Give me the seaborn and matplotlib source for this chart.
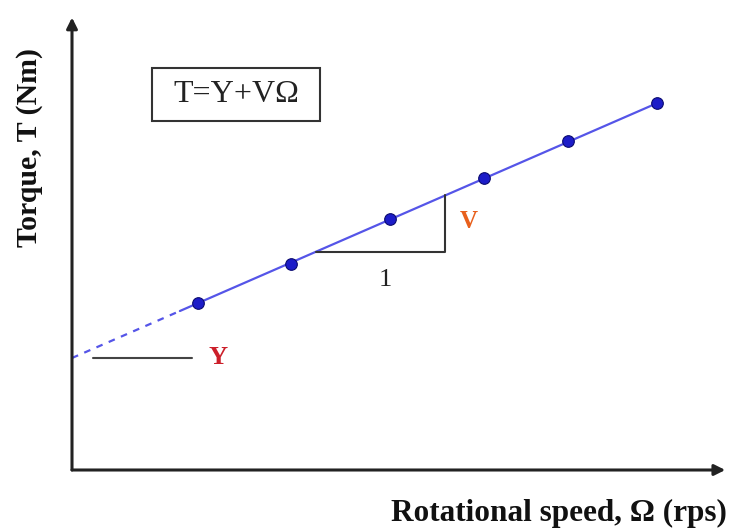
import numpy as np
import pandas as pd
import seaborn as sns
import matplotlib.pyplot as plt
import matplotlib.patches as mpatches

# measured points (rotational speed, torque) in arbitrary units
speed = [1.94, 3.37, 4.89, 6.34, 7.63, 9.0]
torque = [3.73, 4.60, 5.60, 6.52, 7.34, 8.19]

# fitted line T = Y + V*Omega
Y = 2.5
V = 0.632
fit_start = 1.66
fit_end = 9.0

sns.set_theme(style="white")
plt.rcParams['font.family'] = ['Liberation Serif', 'DejaVu Serif']

fig = plt.figure(figsize=(7.33, 5.30), dpi=100)
ax = fig.add_axes([0, 0, 1, 1])
ax.set_xlim(-72 / 65, (733 - 72) / 65)
ax.set_ylim(-(530 - 470) / 44.8, 470 / 44.8)
ax.axis('off')


def px(x):
    return (x - 72) / 65


def py(y):
    return (470 - y) / 44.8


# axes with arrows
ax.annotate('', xy=(10.05, 0), xytext=(0, 0),
            arrowprops=dict(arrowstyle='-|>', color='#222', lw=2.2,
                            mutation_scale=16, shrinkA=0, shrinkB=0))
ax.annotate('', xy=(0, 10.1), xytext=(0, 0),
            arrowprops=dict(arrowstyle='-|>', color='#222', lw=2.2,
                            mutation_scale=16, shrinkA=0, shrinkB=0))

# fitted line: solid over the data, dashed extrapolation to the intercept
solid = pd.DataFrame({'x': [fit_start, fit_end]})
solid['y'] = Y + V * solid['x']
dashed = pd.DataFrame({'x': [0, fit_start]})
dashed['y'] = Y + V * dashed['x']
sns.lineplot(data=solid, x='x', y='y', ax=ax, color='#5555e8', lw=1.6)
sns.lineplot(data=dashed, x='x', y='y', ax=ax, color='#5555e8', lw=1.6,
             linestyle=(0, (3, 3)))

pts = pd.DataFrame({'speed': speed, 'torque': torque})
sns.scatterplot(data=pts, x='speed', y='torque', ax=ax, color='#1c1cc8',
                edgecolor='#0a0a70', linewidth=0.8, s=70, zorder=5)

# slope triangle
tx0, tx1 = 3.75, 5.74
ty0 = Y + V * tx0
ty1 = Y + V * tx1
ax.plot([tx0, tx1, tx1], [ty0, ty0, ty1], color='#333', lw=1.5)
ax.text(px(385), py(280), '1', fontsize=19, ha='center',
        va='center', color='#222')
ax.text(tx1 + 0.22, (ty0 + ty1) / 2 + 0.05, 'V', fontsize=18, ha='left',
        va='center', color='#e8601c', fontweight='bold')

# intercept marker
ax.plot([0.32, 1.85], [Y, Y], color='#444', lw=1.5)
ax.text(2.1, Y, 'Y', fontsize=19, ha='left', va='center', color='#cc1f2a',
        fontweight='bold')

# equation box
ax.add_patch(mpatches.Rectangle((px(152), py(121)), px(320) - px(152),
                                py(68) - py(121), fc='white', ec='#333',
                                lw=1.5, zorder=3))
ax.text(px(236), py(95), 'T=Y+VΩ', fontsize=23,
        ha='center', va='center', color='#222', zorder=4)

# axis labels
ax.text(px(727), py(513), 'Rotational speed, Ω (rps)',
        fontsize=22.5, fontweight='bold', ha='right', va='center', color='#111')
ax.text(px(29), py(148), 'Torque, T (Nm)', fontsize=21.5,
        fontweight='bold', ha='center', va='center', rotation=90, color='#111')

fig.savefig('out.png', dpi=100)
